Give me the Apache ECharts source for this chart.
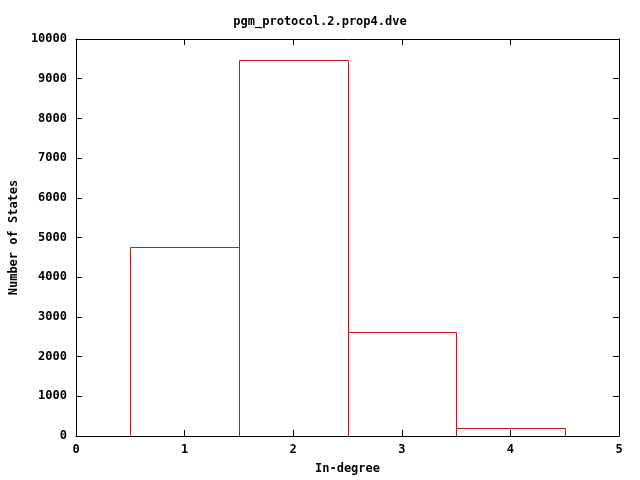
<!DOCTYPE html>
<html><head><meta charset="utf-8">
<script src="https://cdn.jsdelivr.net/npm/echarts@6/dist/echarts.min.js"></script>
<style>html,body{margin:0;padding:0;background:#fff;overflow:hidden}#c{width:640px;height:480px}</style>
</head><body><div id="c"></div>
<script>
const title = 'pgm_protocol.2.prop4.dve';
const xLabel = 'In-degree';
const yLabel = 'Number of States';
const inDegree = [1, 2, 3, 4];
const states = [4770, 9470, 2630, 190];
const xTicks = [0, 1, 2, 3, 4, 5];
const yTicks = [0, 1000, 2000, 3000, 4000, 5000, 6000, 7000, 8000, 9000, 10000];

const font = {fontFamily: 'DejaVu Sans Mono', fontWeight: 'bold', fontSize: 12, color: '#000'};
const axisCommon = {
  axisLine: {show: true, onZero: false, lineStyle: {color: '#000', width: 1}},
  axisTick: {show: true, inside: true, length: 6, lineStyle: {color: '#000'}},
  splitLine: {show: false}
};
const crisp = p => [Math.round(p[0]) + 0.5, Math.round(p[1]) + 0.5];
const chart = echarts.init(document.getElementById('c'), null, {renderer: 'canvas'});
chart.setOption({
  animation: false,
  backgroundColor: '#fff',
  title: {text: title, left: 'center', top: 11, textStyle: Object.assign({}, font)},
  grid: {left: 76, right: 21, top: 39, bottom: 40},
  xAxis: [
    Object.assign({type: 'value', min: xTicks[0], max: xTicks[xTicks.length-1], interval: 1,
      name: xLabel, nameLocation: 'middle', nameGap: 27, nameTextStyle: Object.assign({}, font),
      axisLabel: Object.assign({margin: 8, formatter: v => String(v)}, font)}, axisCommon),
    Object.assign({type: 'value', position: 'top', min: 0, max: 5, interval: 1,
      axisLabel: {show: false}}, axisCommon)
  ],
  yAxis: [
    Object.assign({type: 'value', min: yTicks[0], max: yTicks[yTicks.length-1], interval: 1000,
      name: yLabel, nameLocation: 'middle', nameGap: 56, nameTextStyle: Object.assign({}, font),
      axisLabel: Object.assign({margin: 9, formatter: v => String(v)}, font)}, axisCommon),
    Object.assign({type: 'value', position: 'right', min: 0, max: 10000, interval: 1000,
      axisLabel: {show: false}}, axisCommon)
  ],
  series: [{
    type: 'custom',
    clip: true,
    z: 1,
    data: inDegree.map((x, i) => [x, states[i]]),
    renderItem: function (params, api) {
      const x = api.value(0), y = api.value(1);
      const a = crisp(api.coord([x - 0.5, 0]));
      const b = crisp(api.coord([x - 0.5, y]));
      const c = crisp(api.coord([x + 0.5, y]));
      const d = crisp(api.coord([x + 0.5, 0]));
      return {type: 'polyline', shape: {points: [a, b, c, d]},
        style: {fill: null, stroke: '#c41a1a', lineWidth: 1}};
    }
  }]
});
</script></body></html>
